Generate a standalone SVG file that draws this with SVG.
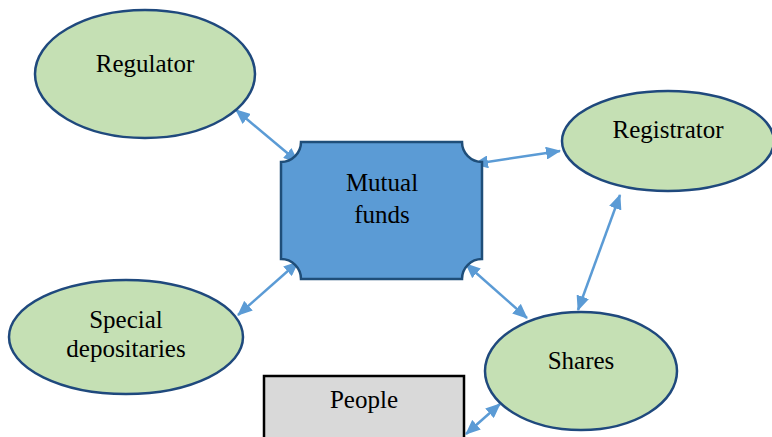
<svg xmlns="http://www.w3.org/2000/svg" width="772" height="437" viewBox="0 0 772 437">
  <defs>
    <marker id="arrow" viewBox="0 0 15 13" refX="14" refY="6.5" markerWidth="15" markerHeight="13" markerUnits="userSpaceOnUse" orient="auto-start-reverse">
      <path d="M0,0 L15,6.5 L0,13 Z" fill="#5b9bd5"/>
    </marker>
  </defs>
  <style>
    .oval { fill: #c5e0b4; stroke: #1f497d; stroke-width: 2.5; }
    .plaque { fill: #5b9bd5; stroke: #1f4e79; stroke-width: 2.5; }
    .box { fill: #d9d9d9; stroke: #000000; stroke-width: 2.5; }
    .label { font-family: "Liberation Serif", "DejaVu Serif", serif; font-size: 25px; fill: #000000; text-anchor: middle; }
    .link { stroke: #5b9bd5; stroke-width: 2.5; fill: none; marker-start: url(#arrow); marker-end: url(#arrow); }
  </style>
  <rect width="772" height="437" fill="#ffffff"/>

  <g id="connectors">
    <line class="link" x1="236" y1="110" x2="298" y2="162"/>
    <line class="link" x1="474" y1="164" x2="560" y2="151"/>
    <line class="link" x1="238" y1="315" x2="298" y2="262"/>
    <line class="link" x1="466" y1="264" x2="527" y2="318"/>
    <line class="link" x1="620" y1="195" x2="578" y2="310"/>
    <line class="link" x1="466" y1="434" x2="500" y2="404"/>
  </g>

  <g id="regulator">
    <ellipse class="oval" cx="145" cy="74" rx="110" ry="64"/>
    <text class="label" x="145" y="72">Regulator</text>
  </g>

  <g id="registrator">
    <ellipse class="oval" cx="668" cy="141" rx="106" ry="50"/>
    <text class="label" x="668" y="138">Registrator</text>
  </g>

  <g id="mutual-funds">
    <path class="plaque" d="M301 142 H462 A20 20 0 0 0 482 162 V259 A20 20 0 0 0 462 279 H301 A20 20 0 0 0 281 259 V162 A20 20 0 0 0 301 142 Z"/>
    <text class="label" x="382" y="191">Mutual</text>
    <text class="label" x="382" y="223">funds</text>
  </g>

  <g id="special-depositaries">
    <ellipse class="oval" cx="126" cy="337" rx="117" ry="57"/>
    <text class="label" x="126" y="328">Special</text>
    <text class="label" x="126" y="357">depositaries</text>
  </g>

  <g id="shares">
    <ellipse class="oval" cx="581" cy="371" rx="96" ry="59"/>
    <text class="label" x="581" y="369">Shares</text>
  </g>

  <g id="people">
    <rect class="box" x="264" y="376" width="200" height="70"/>
    <text class="label" x="364" y="408">People</text>
  </g>
</svg>
